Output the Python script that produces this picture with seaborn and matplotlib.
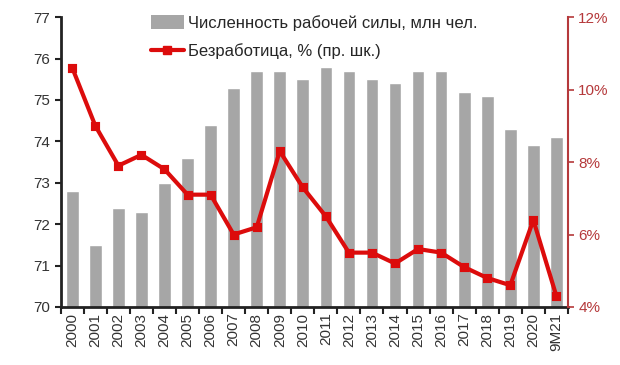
import matplotlib
matplotlib.use("Agg")
import matplotlib.pyplot as plt
import seaborn as sns
from matplotlib.lines import Line2D
from matplotlib.patches import Patch
from matplotlib.ticker import FuncFormatter, FixedLocator

years = ['2000', '2001', '2002', '2003', '2004', '2005', '2006', '2007', '2008',
         '2009', '2010', '2011', '2012', '2013', '2014', '2015', '2016', '2017',
         '2018', '2019', '2020', '9M21']
labor_force = [72.8, 71.5, 72.4, 72.3, 73.0, 73.6, 74.4, 75.3, 75.7, 75.7, 75.5,
               75.8, 75.7, 75.5, 75.4, 75.7, 75.7, 75.2, 75.1, 74.3, 73.9, 74.1]
unemployment = [10.6, 9.0, 7.9, 8.2, 7.8, 7.1, 7.1, 6.0, 6.2, 8.3, 7.3,
                6.5, 5.5, 5.5, 5.2, 5.6, 5.5, 5.1, 4.8, 4.6, 6.4, 4.3]

sns.set_style("white")
plt.rcParams['font.family'] = ['Liberation Sans', 'DejaVu Sans']

bar_color = '#a6a6a6'
line_color = '#dc0c0c'
axis_red = '#b5393b'

fig = plt.figure(figsize=(6.2, 3.65), dpi=100)
ax = fig.add_axes([0.098, 0.159, 0.818, 0.794])

sns.barplot(x=years, y=labor_force, color=bar_color, width=0.55, ax=ax,
            saturation=1)
ax.set_ylim(70, 77)
ax.set_xlim(-0.5, len(years) - 0.5)

ax2 = ax.twinx()
sns.pointplot(x=years, y=unemployment, color=line_color, markers='s',
              markersize=5, linewidth=3, ax=ax2)
ax2.set_ylim(4, 12)
ax2.set_xlim(-0.5, len(years) - 0.5)
ax2.set_yticks([4, 6, 8, 10, 12])
ax2.yaxis.set_major_formatter(FuncFormatter(lambda v, p: f"{v:.0f}%"))

# spines
ax.spines['top'].set_visible(False)
ax2.spines['top'].set_visible(False)
ax.spines['right'].set_visible(False)
ax2.spines['left'].set_visible(False)
ax2.spines['bottom'].set_visible(False)
ax.spines['left'].set_linewidth(2)
ax.spines['bottom'].set_linewidth(2)
ax.spines['left'].set_color('#222222')
ax.spines['bottom'].set_color('#222222')
ax2.spines['right'].set_color(axis_red)
ax2.spines['right'].set_linewidth(1.5)

ax.set_yticks(range(70, 78))
ax.tick_params(axis='y', direction='out', length=4, width=1.5, color='#222222',
               labelsize=11, labelcolor='#333333', left=True)
ax2.tick_params(axis='y', direction='out', length=4, width=1.2, color=axis_red,
                labelsize=11, labelcolor=axis_red, right=True)

# x ticks: labels at centers, marks at category boundaries
ax.tick_params(axis='x', which='major', length=0, labelsize=11,
               labelcolor='#333333', labelrotation=90, pad=4)
ax.xaxis.set_minor_locator(FixedLocator([i - 0.5 for i in range(len(years) + 1)]))
ax.tick_params(axis='x', which='minor', direction='out', length=5, width=1.5,
               color='#222222', bottom=True)
ax.set_xlabel('')
ax.set_ylabel('')
ax2.set_ylabel('')

handles = [Patch(facecolor=bar_color, edgecolor='none'),
           Line2D([0], [0], color=line_color, lw=3, marker='s', markersize=6)]
labels = ['Численность рабочей силы, млн чел.', 'Безработица, % (пр. шк.)']
ax2.legend(handles, labels, loc='upper left', bbox_to_anchor=(0.164, 1.031),
           frameon=False, fontsize=12, handlelength=2.0, handleheight=0.9,
           labelspacing=0.75, handletextpad=0.25, borderaxespad=0)

fig.savefig('out.png', dpi=100)
